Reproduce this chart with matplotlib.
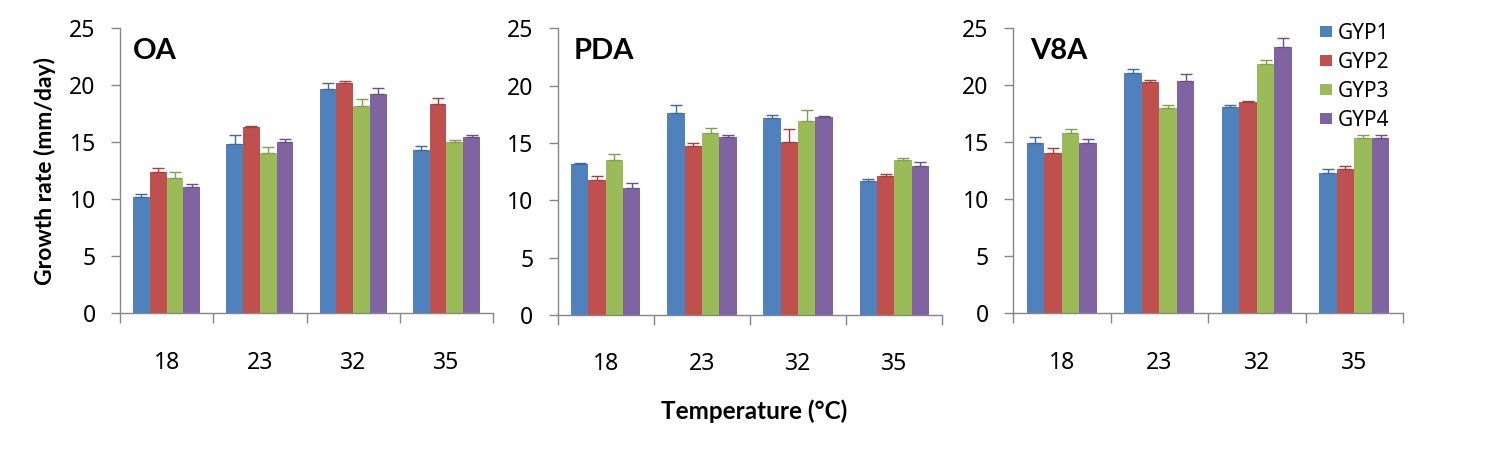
import matplotlib
matplotlib.use("Agg")
import matplotlib.pyplot as plt
import numpy as np

plt.rcParams['font.family'] = ['Noto Sans', 'DejaVu Sans']
BOLD = ['Lato', 'DejaVu Sans']

temperatures = ["18", "23", "32", "35"]
strains = ["GYP1", "GYP2", "GYP3", "GYP4"]
media = ["OA", "PDA", "V8A"]

# growth rate means [strain][temperature]
oa_means = [[10.2, 14.85, 19.7, 14.3],
            [12.4, 16.35, 20.2, 18.35],
            [11.85, 14.1, 18.15, 15.05],
            [11.05, 15.05, 19.25, 15.45]]
oa_err = [[0.26, 0.82, 0.5, 0.35],
          [0.32, 0.06, 0.15, 0.5],
          [0.58, 0.47, 0.61, 0.12],
          [0.26, 0.23, 0.47, 0.15]]

pda_means = [[13.15, 17.65, 17.15, 11.7],
             [11.8, 14.7, 15.05, 12.1],
             [13.5, 15.85, 16.95, 13.55],
             [11.05, 15.5, 17.25, 13.0]]
pda_err = [[0.14, 0.69, 0.32, 0.14],
           [0.35, 0.32, 1.21, 0.17],
           [0.58, 0.49, 0.92, 0.18],
           [0.46, 0.23, 0.14, 0.31]]

v8a_means = [[14.9, 21.1, 18.1, 12.3],
             [14.05, 20.25, 18.55, 12.65],
             [15.8, 18.0, 21.85, 15.35],
             [14.9, 20.4, 23.35, 15.35]]
v8a_err = [[0.56, 0.32, 0.15, 0.35],
           [0.43, 0.24, 0.09, 0.29],
           [0.35, 0.24, 0.41, 0.26],
           [0.35, 0.58, 0.76, 0.26]]

colors = ["#4F81BD", "#C0504D", "#9BBB59", "#8064A2"]
err_colors = ["#3A6AA5", "#A83E3B", "#849F48", "#68508A"]

W, H = 1495, 453
fig = plt.figure(figsize=(W / 100, H / 100), dpi=100)

boxes = [(120, 493, 28.3, 313.3), (557.5, 942.5, 28.3, 315.0), (1013, 1403, 28.3, 313.3)]
label_x = [0.034, 0.043, 0.045]
datasets = [(oa_means, oa_err), (pda_means, pda_err), (v8a_means, v8a_err)]

axes = []
spine_col = "#868686"
bw = 0.18
x = np.arange(len(temperatures))
for k, ((l, r, t, b), (means, errs)) in enumerate(zip(boxes, datasets)):
    ax = fig.add_axes([l / W, 1 - b / H, (r - l) / W, (b - t) / H])
    axes.append(ax)
    for i in range(4):
        pos = x + (i - 1.5) * bw
        ax.bar(pos, means[i], width=bw, color=colors[i], label=strains[i], zorder=2)
        ax.errorbar(pos, means[i], yerr=[np.zeros(4), errs[i]], fmt='none',
                    ecolor=err_colors[i], elinewidth=1, capsize=4.5, capthick=1, zorder=3)
    ax.set_xlim(-0.5, 3.5)
    ax.set_ylim(0, 25)
    ax.set_yticks([0, 5, 10, 15, 20, 25])
    ax.set_xticks(x)
    ax.set_xticklabels(temperatures)
    ax.set_xticks(np.arange(-0.5, 4, 1), minor=True)
    ax.tick_params(axis='x', which='major', length=0, pad=27, labelsize=16.5, colors='black')
    ax.tick_params(axis='x', which='minor', length=7, width=1, color=spine_col, direction='out')
    ax.tick_params(axis='y', length=6.5, width=1, color=spine_col, pad=11, labelsize=16.5)
    for s in ['top', 'right']:
        ax.spines[s].set_visible(False)
    for s in ['left', 'bottom']:
        ax.spines[s].set_color(spine_col)
        ax.spines[s].set_linewidth(1)
    ax.text(label_x[k], 0.892, media[k], transform=ax.transAxes, fontsize=21,
            fontweight='bold', family=BOLD, va='baseline', ha='left')

fig.text(45 / W, 1 - 171 / H, "Growth rate (mm/day)", fontsize=16.5, fontweight='bold',
         family=BOLD, rotation=90, ha='center', va='center')
fig.text(754 / W, 1 - 411 / H, "Temperature (°C)", fontsize=17.5, fontweight='bold',
         family=BOLD, ha='center', va='center')

axes[2].legend(loc='upper left', bbox_to_anchor=(1320 / W, 1 - 23 / H),
               bbox_transform=fig.transFigure, frameon=False, fontsize=15,
               handlelength=0.58, handleheight=0.45, handletextpad=0.29,
               labelspacing=0.38, borderpad=0, borderaxespad=0)

fig.savefig("out.png", dpi=100)
